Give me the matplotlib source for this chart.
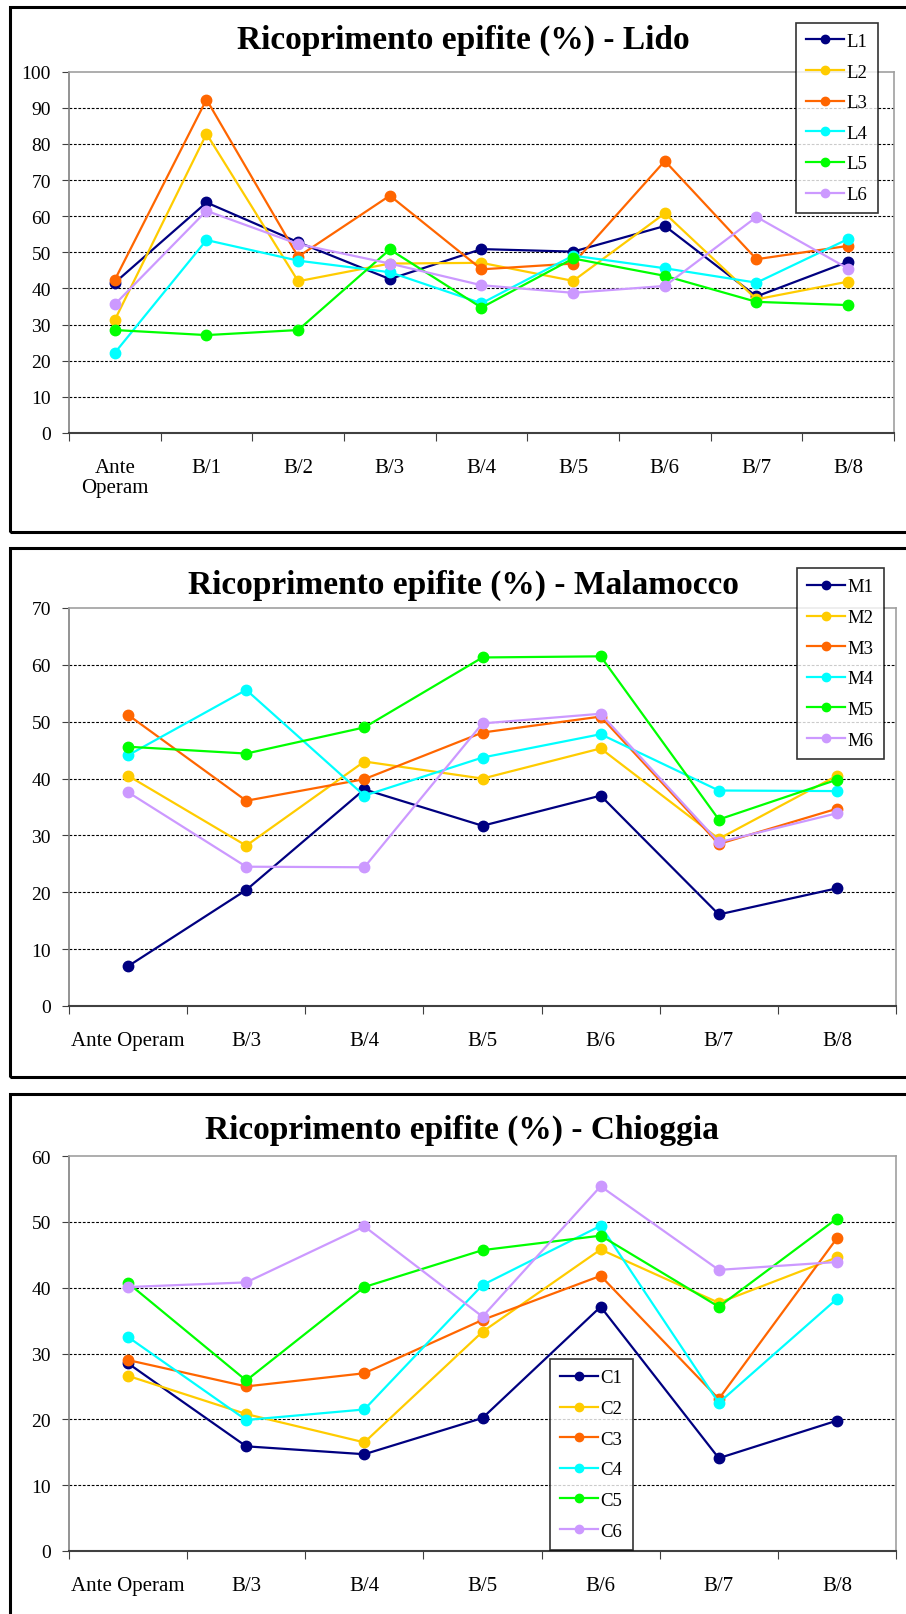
import matplotlib
matplotlib.use("Agg")
import matplotlib.pyplot as plt
from matplotlib.patches import Rectangle

plt.rcParams['font.family'] = ['Liberation Serif', 'DejaVu Serif']

# ---------------- data ----------------
lido_cats = ["Ante\nOperam", "B/1", "B/2", "B/3", "B/4", "B/5", "B/6", "B/7", "B/8"]
L1 = [41.6, 63.8, 52.8, 42.6, 50.9, 50.2, 57.3, 37.8, 47.4]
L2 = [31.3, 82.8, 42.0, 46.9, 47.1, 42.1, 60.8, 37.0, 41.9]
L3 = [42.4, 92.3, 48.8, 65.7, 45.3, 46.9, 75.3, 48.1, 51.8]
L4 = [22.2, 53.4, 47.7, 44.5, 35.9, 49.1, 45.6, 41.6, 53.7]
L5 = [28.5, 27.1, 28.5, 50.8, 34.7, 48.3, 43.5, 36.3, 35.4]
L6 = [35.6, 61.5, 52.3, 46.9, 40.9, 38.8, 40.7, 59.8, 45.5]

mal_cats = ["Ante Operam", "B/3", "B/4", "B/5", "B/6", "B/7", "B/8"]
M1 = [7.0, 20.4, 38.1, 31.7, 37.0, 16.1, 20.7]
M2 = [40.5, 28.2, 43.0, 40.0, 45.3, 29.4, 40.5]
M3 = [51.2, 36.1, 39.9, 48.1, 50.9, 28.5, 34.7]
M4 = [44.1, 55.6, 37.0, 43.7, 47.8, 37.9, 37.8]
M5 = [45.6, 44.4, 49.0, 61.3, 61.5, 32.8, 39.8]
M6 = [37.6, 24.5, 24.4, 49.7, 51.4, 28.8, 33.9]

chi_cats = ["Ante Operam", "B/3", "B/4", "B/5", "B/6", "B/7", "B/8"]
C1 = [28.5, 15.9, 14.7, 20.2, 37.1, 14.1, 19.8]
C2 = [26.6, 20.8, 16.5, 33.3, 45.8, 37.7, 44.6]
C3 = [29.0, 25.0, 27.0, 35.1, 41.8, 23.1, 47.5]
C4 = [32.5, 19.9, 21.5, 40.4, 49.4, 22.5, 38.3]
C5 = [40.7, 25.9, 40.1, 45.7, 47.9, 37.1, 50.5]
C6 = [40.1, 40.8, 49.3, 35.6, 55.4, 42.7, 43.9]

colors = ["#000080", "#FFCC00", "#FF6600", "#00FFFF", "#00FF00", "#CC99FF"]

W, H = 906, 1615
fig = plt.figure(figsize=(W / 100, H / 100), dpi=100)


def fx(px):
    return px / W


def fy(py):
    return 1 - py / H


def panel(box, border, title, title_xy, cats, series, names, ymax, legend_xy):
    # outer frame
    bx0, by0, bx1, by1 = border
    fig.patches.append(Rectangle((fx(bx0), fy(by1)), fx(bx1 - bx0), (by1 - by0) / H,
                                 transform=fig.transFigure, fill=False,
                                 edgecolor='black', linewidth=2.2, zorder=0))
    l, t, r, b = box
    ax = fig.add_axes([fx(l), fy(b), fx(r - l), (b - t) / H])
    x = list(range(len(cats)))
    handles = []
    for vals, name, c in zip(series, names, colors):
        h, = ax.plot(x, vals, color=c, lw=1.6, marker='o', ms=7.5, label=name,
                     zorder=3, clip_on=False)
        handles.append(h)
    ax.set_xlim(-0.5, len(cats) - 0.5)
    ax.set_ylim(0, ymax)
    ax.set_yticks(range(0, ymax + 1, 10))
    ax.set_xticks([i - 0.5 for i in range(len(cats) + 1)], minor=False)
    ax.set_xticklabels([])
    ax.set_xticks(x, minor=True)
    ax.set_xticklabels(cats, minor=True, fontsize=15, linespacing=1.1)
    ax.tick_params(axis='x', which='minor', length=0, pad=18)
    ax.tick_params(axis='x', which='major', length=6, direction='out', color='#404040')
    ax.tick_params(axis='y', length=5, direction='out', labelsize=14, pad=8, color='#404040')
    for yv in range(10, ymax, 10):
        ax.axhline(yv, color='black', lw=0.8, ls=(0, (2.5, 1.5)), zorder=1)
    ax.spines['left'].set_color('#808080')
    ax.spines['left'].set_linewidth(1.2)
    ax.spines['bottom'].set_color('#404040')
    ax.spines['bottom'].set_linewidth(1.5)
    for s in ('top', 'right'):
        ax.spines[s].set_color('#A0A0A0')
        ax.spines[s].set_linewidth(1.2)
    fig.text(fx(title_xy[0]), fy(title_xy[1]), title, ha='center', va='center',
             fontsize=24, fontweight='bold')
    leg = fig.legend(handles=handles, loc='upper left',
                     bbox_to_anchor=(fx(legend_xy[0]), fy(legend_xy[1])),
                     bbox_transform=fig.transFigure, frameon=True, fancybox=False,
                     edgecolor='black', fontsize=13.5, labelspacing=0.72,
                     handlelength=2.0, handletextpad=0.15, borderpad=0.55,
                     borderaxespad=0, markerscale=0.8)
    leg.get_frame().set_linewidth(1.2)
    leg.set_zorder(10)
    return ax


panel((69, 72.7, 894, 434), (10, 8, 920, 533), "Ricoprimento epifite (%) - Lido", (463, 40),
      lido_cats, [L1, L2, L3, L4, L5, L6], ["L1", "L2", "L3", "L4", "L5", "L6"], 100, (796, 23.5))
panel((69, 609, 896, 1007), (10, 549, 920, 1078), "Ricoprimento epifite (%) - Malamocco", (463, 585),
      mal_cats, [M1, M2, M3, M4, M5, M6], ["M1", "M2", "M3", "M4", "M5", "M6"], 70, (797, 569))
panel((69, 1157, 896, 1552), (10, 1095, 920, 1630), "Ricoprimento epifite (%) - Chioggia", (462, 1130),
      chi_cats, [C1, C2, C3, C4, C5, C6], ["C1", "C2", "C3", "C4", "C5", "C6"], 60, (550, 1360))

fig.savefig("out.png", dpi=100)
